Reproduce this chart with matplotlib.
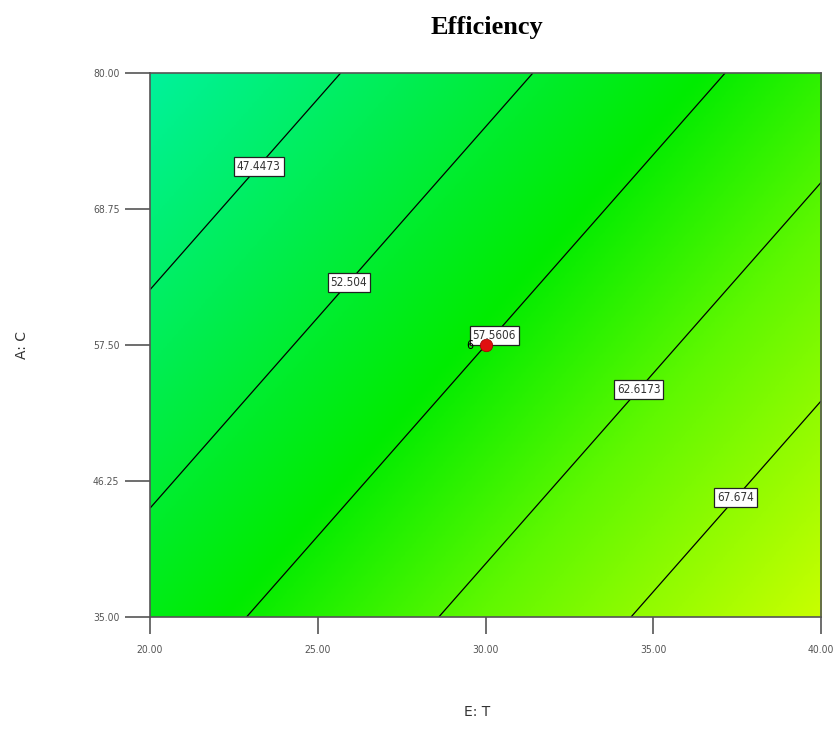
import numpy as np
import matplotlib
matplotlib.use("Agg")
import matplotlib.pyplot as plt
from matplotlib.colors import LinearSegmentedColormap

# Fitted response surface: Efficiency = b0 + bT*T + bC*C
coef_b0 = 47.16
coef_T = 0.8825
coef_C = -0.2797

t_range = [20.0, 40.0]
c_range = [35.0, 80.0]
x_ticks = [20.00, 25.00, 30.00, 35.00, 40.00]
y_ticks = [35.00, 46.25, 57.50, 68.75, 80.00]

levels = [47.4473, 52.504, 57.5606, 62.6173, 67.674]
label_rows = [72.3, 62.7, 58.3, 53.8, 44.85]   # C at which each level is labelled

center_point = (30.0, 57.5)
center_reps = "6"

font_sans = ["DejaVu Sans"]
narrow = dict(family=font_sans, stretch="condensed")

# Grid for the filled surface
T = np.linspace(t_range[0], t_range[1], 300)
C = np.linspace(c_range[0], c_range[1], 300)
TT, CC = np.meshgrid(T, C)
Z = coef_b0 + coef_T * TT + coef_C * CC

cmap = LinearSegmentedColormap.from_list("de", [
    (0.00, (0 / 255, 242 / 255, 155 / 255)),
    (0.22, (0 / 255, 238 / 255, 85 / 255)),
    (0.48, (0 / 255, 236 / 255, 0 / 255)),
    (0.70, (95 / 255, 248 / 255, 0 / 255)),
    (1.00, (200 / 255, 255 / 255, 0 / 255)),
])

fig = plt.figure(figsize=(8.37, 7.33), dpi=100)
ax = fig.add_axes([0.1792, 0.1583, 0.8017, 0.742])

ax.imshow(Z, extent=[t_range[0], t_range[1], c_range[0], c_range[1]],
          origin="lower", aspect="auto", cmap=cmap, interpolation="bilinear")
ax.contour(TT, CC, Z, levels=levels, colors="black", linewidths=0.9)

# Boxed contour labels sitting on each line
for lev, c_at in zip(levels, label_rows):
    t_at = (lev - coef_b0 - coef_C * c_at) / coef_T
    ax.text(t_at, c_at, f"{lev:g}", ha="center", va="center", fontsize=8.5,
            color="#333333", zorder=5, **narrow,
            bbox=dict(boxstyle="square,pad=0.25", fc="white", ec="#222222", lw=0.9))

# Design centre point with replicate count
ax.plot(*center_point, "o", color="#e01010", markersize=9, zorder=7,
        markeredgecolor="#a00000", markeredgewidth=0.5)
ax.text(center_point[0] - 0.35, center_point[1], center_reps, ha="right", va="center",
        fontsize=9, color="black", zorder=6, **narrow)

ax.set_xlim(t_range)
ax.set_ylim(c_range)
ax.set_xticks(x_ticks)
ax.set_yticks(y_ticks)
ax.set_xticklabels([f"{v:.2f}" for v in x_ticks])
ax.set_yticklabels([f"{v:.2f}" for v in y_ticks])
ax.tick_params(axis="x", length=12, width=1.2, color="#555555", labelsize=7.5,
               labelcolor="#555555", pad=8)
ax.tick_params(axis="y", length=18, width=1.2, color="#555555", labelsize=7.5,
               labelcolor="#555555", pad=4)
for tl in ax.get_xticklabels() + ax.get_yticklabels():
    tl.set_family(font_sans)
    tl.set_stretch("condensed")
for sp in ax.spines.values():
    sp.set_color("#555555")
    sp.set_linewidth(1.2)

fig.text(0.582, 0.962, "Efficiency", ha="center", va="center", fontsize=19,
         fontweight="bold", family="Liberation Serif")
fig.text(0.570, 0.029, "E: T", ha="center", va="center", fontsize=10,
         color="#333333", family=font_sans)
fig.text(0.026, 0.53, "A: C", ha="center", va="center", fontsize=10,
         color="#333333", family=font_sans, rotation=90)

fig.savefig("out.png", dpi=100)
